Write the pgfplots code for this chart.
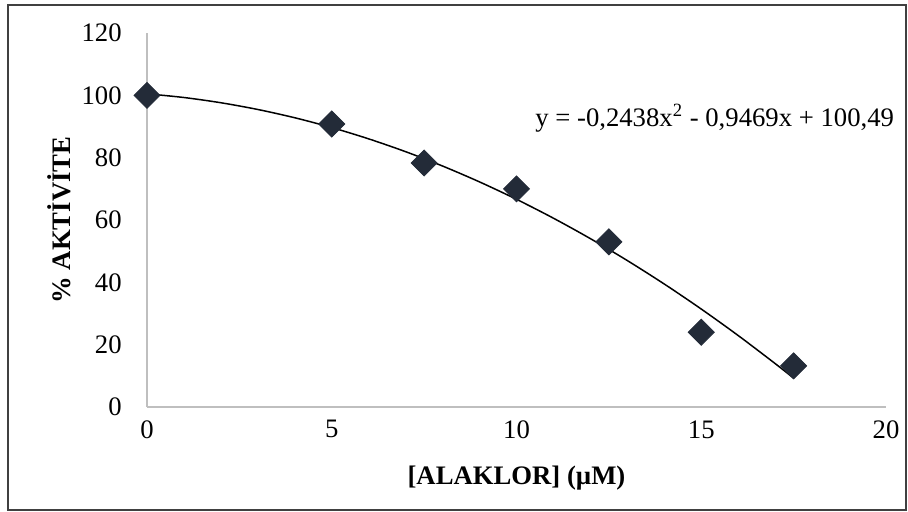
\documentclass[border=0pt]{standalone}
\usepackage{pgfplots}
\pgfplotsset{compat=1.18}
\usepackage{fontspec}
\setmainfont{Liberation Serif}
\definecolor{mk}{HTML}{232B38}
\definecolor{axc}{HTML}{BFBFBF}
\definecolor{fr}{HTML}{404040}
\begin{document}
\begin{tikzpicture}
\path[use as bounding box] (0bp,0bp) rectangle (454bp,256bp);
\draw[fr, line width=1bp] (4bp,1bp) rectangle (453bp,253.5bp);
\begin{axis}[
  at={(73.5bp,52.5bp)}, anchor=south west,
  scale only axis, width=369.5bp, height=187bp,
  xmin=0, xmax=20, ymin=0, ymax=120,
  xtick={0,5,...,20}, ytick={0,20,...,120},
  axis x line*=bottom, axis y line*=left,
  axis line style={axc, line width=1bp},
  major tick length=0pt,
  tick style={draw=none},
  every tick label/.append style={font=\fontsize{13.4}{15}\selectfont},
  /pgf/number format/assume math mode=true,
  yticklabel style={inner sep=0pt, xshift=-12.5bp},
  xticklabel style={inner sep=0pt, yshift=-6.5bp},
  xlabel={[ALAKLOR] (µM)},
  ylabel={\% AKTİVİTE},
  every axis x label/.style={at={(axis description cs:0.5,0)}, yshift=-35.5bp, anchor=center, font=\bfseries\fontsize{13.4}{15}\selectfont},
  every axis y label/.style={at={(axis description cs:0,0.5)}, xshift=-44bp, rotate=90, anchor=center, font=\bfseries\fontsize{13.4}{15}\selectfont},
  clip=false
]
\addplot[only marks, mark=square*, mark size=4.6bp, mark options={rotate=45, fill=mk, draw=mk}]
  coordinates {(0,100) (5,90.8) (7.5,78.3) (10,70) (12.5,53) (15,24) (17.5,13.2)};
\addplot[black, line width=0.75bp, smooth] coordinates {
(0,100.49) (1,99.2993) (2,97.621) (3,95.4551) (4,92.8016) (5,89.6605) (6,86.0318)
(7,81.9155) (8,77.3116) (9,72.2201) (10,66.641) (11,60.5743) (12,54.02) (13,46.9781)
(14,39.4486) (15,31.4315) (16,22.9268) (17,13.9345) (17.5,9.2555)};
\node[anchor=west, inner sep=0pt, font=\fontsize{13.4}{15}\selectfont] at (axis cs:10.5,92.7)
  {y = -0,2438x\textsuperscript{2} - 0,9469x + 100,49};
\end{axis}
\end{tikzpicture}
\end{document}
